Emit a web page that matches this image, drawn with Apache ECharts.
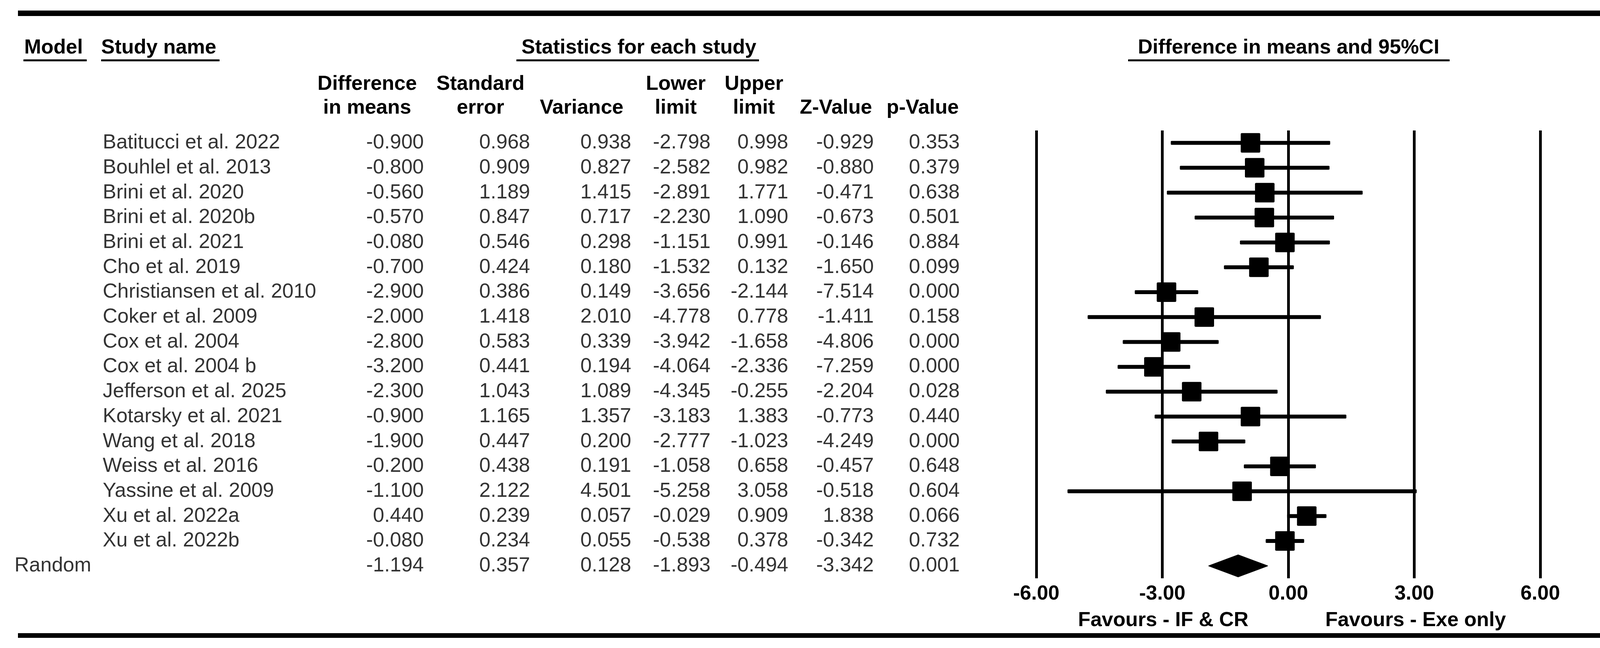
<!DOCTYPE html>
<html>
<head>
<meta charset="utf-8">
<script src="https://cdn.jsdelivr.net/npm/echarts@6/dist/echarts.min.js"></script>
<style>html,body{margin:0;padding:0;background:#fff;}#c{width:4158px;height:1659px;}</style>
</head>
<body>
<div id="c"></div>
<script>
// ---------- data ----------
const studies = ["Batitucci et al. 2022","Bouhlel et al. 2013","Brini et al. 2020","Brini et al. 2020b","Brini et al. 2021","Cho et al. 2019","Christiansen et al. 2010","Coker et al. 2009","Cox et al. 2004","Cox et al. 2004 b","Jefferson et al. 2025","Kotarsky et al. 2021","Wang et al. 2018","Weiss et al. 2016","Yassine et al. 2009","Xu et al. 2022a","Xu et al. 2022b"];
const diffMeans  = [-0.900,-0.800,-0.560,-0.570,-0.080,-0.700,-2.900,-2.000,-2.800,-3.200,-2.300,-0.900,-1.900,-0.200,-1.100,0.440,-0.080];
const stdErr     = [0.968,0.909,1.189,0.847,0.546,0.424,0.386,1.418,0.583,0.441,1.043,1.165,0.447,0.438,2.122,0.239,0.234];
const variance   = [0.938,0.827,1.415,0.717,0.298,0.180,0.149,2.010,0.339,0.194,1.089,1.357,0.200,0.191,4.501,0.057,0.055];
const lowerLimit = [-2.798,-2.582,-2.891,-2.230,-1.151,-1.532,-3.656,-4.778,-3.942,-4.064,-4.345,-3.183,-2.777,-1.058,-5.258,-0.029,-0.538];
const upperLimit = [0.998,0.982,1.771,1.090,0.991,0.132,-2.144,0.778,-1.658,-2.336,-0.255,1.383,-1.023,0.658,3.058,0.909,0.378];
const zValue     = [-0.929,-0.880,-0.471,-0.673,-0.146,-1.650,-7.514,-1.411,-4.806,-7.259,-2.204,-0.773,-4.249,-0.457,-0.518,1.838,-0.342];
const pValue     = [0.353,0.379,0.638,0.501,0.884,0.099,0.000,0.158,0.000,0.000,0.028,0.440,0.000,0.648,0.604,0.066,0.732];
const pooledLabel = "Random";
const pooledStats = [-1.194,0.357,0.128,-1.893,-0.494,-3.342,0.001]; // diff, se, var, lower, upper, z, p
const xTickMin = -6, xTickMax = 6, xTickStep = 3;
const colHeaders = [["Difference","in means"],["Standard","error"],["","Variance"],["Lower","limit"],["Upper","limit"],["","Z-Value"],["","p-Value"]];
const favoursLeft = "Favours - IF & CR";
const favoursRight = "Favours - Exe only";

// ---------- layout ----------
const W = 4158, H = 1659;
const FONT = '"Liberation Sans", Arial, Helvetica, sans-serif';
const FS = 52;
const gridTop = 334, rowPitch = 63.7;
const nRows = studies.length + 1;
const gridHeight = rowPitch * nRows;
const gridBottom = H - gridTop - gridHeight;
const plotLeft = 2653, plotRight = W - 3943;
const colRight = [1085, 1357, 1616, 1819, 2018, 2237, 2457];
const colCenter = [940, 1230, 1489, 1730, 1930, 2140, 2362];
const nameLeft = 263, modelLeft = 37;

// table cells
const studyCols = [diffMeans, stdErr, variance, lowerLimit, upperLimit, zValue, pValue];
const numCells = [];
studies.forEach((s, i) => {
  studyCols.forEach((arr, c) => numCells.push([colRight[c], i, arr[i].toFixed(3)]));
});
pooledStats.forEach((v, c) => numCells.push([colRight[c], studies.length, v.toFixed(3)]));
const nameCells = studies.map((s, i) => [nameLeft, i, s]);
nameCells.push([modelLeft, studies.length, pooledLabel]);

const ciData = studies.map((s, i) => [diffMeans[i], lowerLimit[i], upperLimit[i], i]);
const pooledData = [[pooledStats[0], pooledStats[3], pooledStats[4], studies.length]];

function txt(text, x, y, align, bold) {
  return {type: 'text', x: x, y: y, silent: true,
    style: {text: text, fill: '#000', font: (bold ? 'bold ' : '') + FS + 'px ' + FONT,
      textAlign: align, textVerticalAlign: 'middle'}};
}
function rect(x, y, w, h) {
  return {type: 'rect', silent: true, shape: {x: x, y: y, width: w, height: h}, style: {fill: '#000'}};
}

const graphics = [
  rect(46, 27, 4079, 14),
  rect(46, 1621, 4079, 12),
  txt('Model', 62, 123, 'left', true), rect(60, 152, 162, 5),
  txt('Study name', 259, 123, 'left', true), rect(259, 152, 303, 5),
  txt('Statistics for each study', 1335, 123, 'left', true), rect(1322, 152, 621, 5),
  txt('Difference in means and 95%CI', 2913, 123, 'left', true), rect(2888, 152, 823, 5),
  txt(favoursLeft, 2978, 1589, 'center', true),
  txt(favoursRight, 3624, 1589, 'center', true)
];
colHeaders.forEach((h, c) => {
  if (h[0]) graphics.push(txt(h[0], colCenter[c], 216, 'center', true));
  graphics.push(txt(h[1], colCenter[c], 277, 'center', true));
});

const chart = echarts.init(document.getElementById('c'), null, {renderer: 'canvas', width: W, height: H});
const yBase = {type: 'value', inverse: true, min: -0.5, max: nRows - 0.5, show: false};
chart.setOption({
  animation: false,
  backgroundColor: '#fff',
  grid: [
    {left: 0, right: 0, top: gridTop, bottom: gridBottom},
    {left: plotLeft, right: plotRight, top: gridTop, bottom: gridBottom}
  ],
  xAxis: [
    {gridIndex: 0, type: 'value', min: 0, max: W, show: false},
    {gridIndex: 1, type: 'value', min: xTickMin, max: xTickMax, interval: xTickStep,
      axisLine: {show: false}, axisTick: {show: false},
      splitLine: {show: true, lineStyle: {color: '#000', width: 7}},
      axisLabel: {margin: 14, color: '#000', fontSize: FS, fontWeight: 'bold', fontFamily: FONT,
        formatter: v => v.toFixed(2)}}
  ],
  yAxis: [Object.assign({gridIndex: 0}, yBase), Object.assign({gridIndex: 1}, yBase)],
  graphic: graphics,
  series: [
    {type: 'scatter', xAxisIndex: 0, yAxisIndex: 0, data: numCells, symbolSize: 1, clip: false,
      itemStyle: {color: 'rgba(0,0,0,0)'}, silent: true,
      label: {show: true, position: 'inside', align: 'right', verticalAlign: 'middle',
        formatter: p => p.data[2], color: '#000', fontSize: FS, fontFamily: FONT}},
    {type: 'scatter', xAxisIndex: 0, yAxisIndex: 0, data: nameCells, symbolSize: 1, clip: false,
      itemStyle: {color: 'rgba(0,0,0,0)'}, silent: true,
      label: {show: true, position: 'inside', align: 'left', verticalAlign: 'middle',
        formatter: p => p.data[2], color: '#000', fontSize: FS, fontFamily: FONT}},
    {type: 'custom', xAxisIndex: 1, yAxisIndex: 1, data: ciData, clip: false, silent: true,
      renderItem: function (params, api) {
        const c = api.coord([api.value(0), api.value(3)]);
        const l = api.coord([api.value(1), api.value(3)]);
        const u = api.coord([api.value(2), api.value(3)]);
        const sq = 50, lw = 10;
        return {type: 'group', children: [
          {type: 'rect', shape: {x: l[0], y: c[1] - lw / 2, width: u[0] - l[0], height: lw, r: 2}, style: {fill: '#000'}},
          {type: 'rect', shape: {x: c[0] - sq / 2, y: c[1] - sq / 2, width: sq, height: sq, r: 3}, style: {fill: '#000'}}
        ]};
      }},
    {type: 'custom', xAxisIndex: 1, yAxisIndex: 1, data: pooledData, clip: false, silent: true,
      renderItem: function (params, api) {
        const c = api.coord([api.value(0), api.value(3)]);
        const l = api.coord([api.value(1), api.value(3)]);
        const u = api.coord([api.value(2), api.value(3)]);
        const h = 28;
        return {type: 'polygon', shape: {points: [[l[0], c[1]], [c[0], c[1] - h], [u[0], c[1]], [c[0], c[1] + h]]},
          style: {fill: '#000', stroke: '#000', lineWidth: 2, lineJoin: 'round'}};
      }}
  ]
});
</script>
</body>
</html>
